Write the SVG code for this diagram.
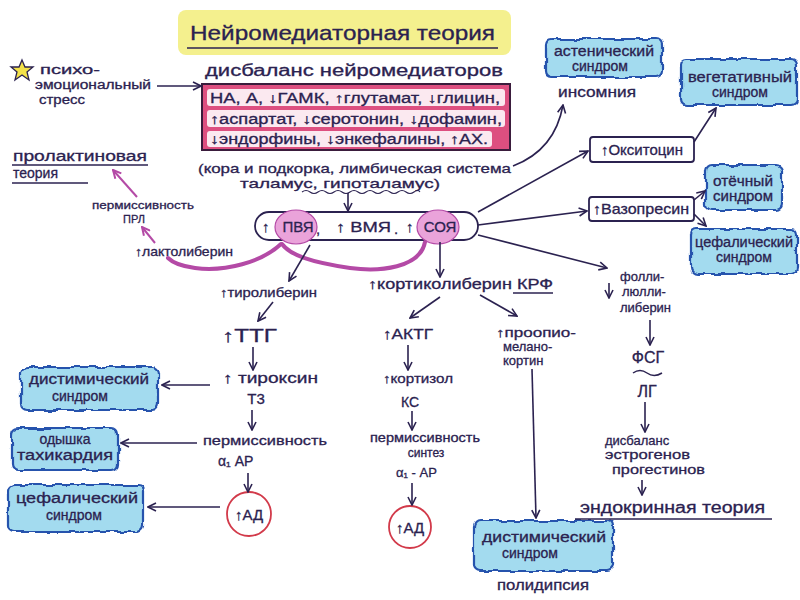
<svg xmlns="http://www.w3.org/2000/svg" width="800" height="600" viewBox="0 0 800 600">
<style>
.t{font-family:"Liberation Sans","DejaVu Sans",sans-serif;fill:#2b2250;stroke:#2b2250;stroke-width:0.3;}
.m{text-anchor:middle;}
.s11{font-size:11px}.s12{font-size:12px}.s13{font-size:13px}.s14{font-size:14px}.s15{font-size:15px}.s16{font-size:16px}.s18{font-size:18px}
.ln{stroke:#2b2250;stroke-width:1.6;fill:none;marker-end:url(#ah);}
.pl{stroke:#b44aa6;stroke-width:2;fill:none;marker-end:url(#pah);}
.pc{stroke:#b44aa6;stroke-width:4;fill:none;stroke-linecap:round;}
.cloud{fill:#a3dbef;stroke:#2553ad;stroke-width:2.2;filter:url(#wob);}
.box{fill:#fff;stroke:#2b2250;stroke-width:1.8;}
.ad{fill:#fff;stroke:#d23a4a;stroke-width:1.8;}
.ul{stroke:#2b2250;stroke-width:1.6;fill:none;}
</style>
<defs>
<marker id="ah" markerUnits="userSpaceOnUse" markerWidth="10" markerHeight="10" viewBox="0 0 10 10" refX="9" refY="5" orient="auto">
<path d="M1,1 L9,5 L1,9" fill="none" stroke="#2b2250" stroke-width="1.6"/>
</marker>
<marker id="pah" markerUnits="userSpaceOnUse" markerWidth="10" markerHeight="10" viewBox="0 0 10 10" refX="9" refY="5" orient="auto">
<path d="M1,1 L9,5 L1,9" fill="none" stroke="#b44aa6" stroke-width="2"/>
</marker>
<filter id="wob" x="-10%" y="-15%" width="120%" height="130%">
<feTurbulence type="fractalNoise" baseFrequency="0.11" numOctaves="1" seed="3" result="n"/>
<feDisplacementMap in="SourceGraphic" in2="n" scale="6" xChannelSelector="R" yChannelSelector="G"/>
</filter>
</defs>
<rect width="800" height="600" fill="#ffffff"/>

<g id="title">
<rect x="178" y="10" width="333" height="45" rx="8" fill="#f4f08e"/>
<text class="t" x="190" y="40" font-size="21" textLength="305" lengthAdjust="spacingAndGlyphs">Нейромедиаторная теория</text>
<line class="ul" x1="187" y1="48" x2="498" y2="48"/>
</g>

<g id="stress">
<path d="M22,60 L25,67 L33,67 L27,72 L29,80 L22,75 L15,80 L17,72 L11,67 L19,67 Z" fill="#f3e24a" stroke="#2b2250" stroke-width="1.3"/>
<text class="t s12" x="40" y="74" textLength="60" lengthAdjust="spacingAndGlyphs">психо-</text>
<text class="t s12" x="35" y="89" textLength="116" lengthAdjust="spacingAndGlyphs">эмоциональный</text>
<text class="t s12" x="39" y="104" textLength="46" lengthAdjust="spacingAndGlyphs">стресс</text>
</g>

<g id="disbalance">
<text class="t s16" x="205" y="76" textLength="298" lengthAdjust="spacingAndGlyphs">дисбаланс нейромедиаторов</text>
<rect x="202" y="84" width="308" height="66" fill="#dd4f80" stroke="#3a1c3c" stroke-width="2"/>
<rect x="207" y="89" width="298" height="17" rx="3" fill="#fbe9f0"/>
<rect x="207" y="110" width="298" height="17" rx="3" fill="#fbe9f0"/>
<rect x="207" y="131" width="285" height="16" rx="3" fill="#fbe9f0"/>
<text class="t s14" x="210" y="103" textLength="290" lengthAdjust="spacingAndGlyphs">НА, А, ↓ГАМК, ↑глутамат, ↓глицин,</text>
<text class="t s14" x="210" y="124" textLength="292" lengthAdjust="spacingAndGlyphs">↑аспартат, ↓серотонин, ↓дофамин,</text>
<text class="t s14" x="210" y="144" textLength="278" lengthAdjust="spacingAndGlyphs">↓эндорфины, ↓энкефалины, ↑АХ.</text>
</g>

<g id="location">
<text class="t s13" x="198" y="173" textLength="313" lengthAdjust="spacingAndGlyphs">(кора и подкорка, лимбическая система</text>
<text class="t s13" x="240" y="188" textLength="200" lengthAdjust="spacingAndGlyphs">таламус, гипоталамус)</text>
<path d="M302,192 q4,-3 8,0 t8,0 t8,0 t8,0 t8,0 t8,0 t8,0 t8,0 t8,0 t8,0 t8,0 t8,0 t8,0 t8,0 t6,0" stroke="#2b2250" stroke-width="1.1" fill="none"/>
</g>

<g id="prl-theory">
<text class="t s14" x="13" y="161" textLength="134" lengthAdjust="spacingAndGlyphs">пролактиновая</text>
<line class="ul" x1="12" y1="165" x2="148" y2="165"/>
<text class="t s14" x="13" y="178">теория</text>
<line class="ul" x1="12" y1="183" x2="88" y2="183"/>
</g>

<g id="prl">
<text class="t s11 m" x="143" y="209" textLength="102" lengthAdjust="spacingAndGlyphs">пермиссивность</text>
<text class="t s11 m" x="134" y="223">ПРЛ</text>
</g>
<g id="lactoliberin">
<text class="t s13" x="135" y="256" textLength="98" lengthAdjust="spacingAndGlyphs">↑лактолиберин</text>
</g>

<g id="nuclei">
<rect x="255" y="212" width="223" height="28" rx="14" fill="#fff" stroke="#2b2250" stroke-width="1.8"/>
<ellipse cx="296" cy="227" rx="21" ry="17" fill="#eaa3da" stroke="#b44aa6" stroke-width="1.2"/>
<ellipse cx="438" cy="227" rx="21" ry="17" fill="#eaa3da" stroke="#b44aa6" stroke-width="1.2"/>
<text class="t s15" x="262" y="232">↑</text>
<text class="t s15 m" x="298" y="232">ПВЯ</text>
<text class="t s15" x="316" y="234">,</text>
<text class="t s15" x="336" y="232" textLength="55" lengthAdjust="spacingAndGlyphs">↑ ВМЯ</text>
<text class="t s15" x="394" y="234">.</text>
<text class="t s15" x="406" y="232">↑</text>
<text class="t s15 m" x="440" y="232">СОЯ</text>
</g>

<g id="oxytocin">
<rect class="box" x="590" y="137" width="104" height="25" rx="3"/>
<text class="t s15 m" x="642" y="155">↑Окситоцин</text>
</g>
<g id="vasopressin">
<rect class="box" x="589" y="197" width="105" height="24" rx="3"/>
<text class="t s15 m" x="641" y="214" textLength="96" lengthAdjust="spacingAndGlyphs">↑Вазопресин</text>
</g>

<g id="asthenic">
<rect class="cloud" x="546" y="39" width="116" height="38" rx="6"/>
<text class="t s14 m" x="604" y="56" textLength="100" lengthAdjust="spacingAndGlyphs">астенический</text>
<text class="t s14 m" x="600" y="71">синдром</text>
<text class="t s14 m" x="597" y="97" textLength="78" lengthAdjust="spacingAndGlyphs">инсомния</text>
</g>
<g id="vegetative">
<rect class="cloud" x="681" y="59" width="116" height="46" rx="6"/>
<text class="t s14 m" x="740" y="82" textLength="104" lengthAdjust="spacingAndGlyphs">вегетативный</text>
<text class="t s14 m" x="740" y="97">синдром</text>
</g>
<g id="edema">
<rect class="cloud" x="706" y="165" width="76" height="45" rx="6"/>
<text class="t s14 m" x="743" y="186" textLength="60" lengthAdjust="spacingAndGlyphs">отёчный</text>
<text class="t s14 m" x="743" y="201" textLength="60" lengthAdjust="spacingAndGlyphs">синдром</text>
</g>
<g id="cephal-right">
<rect class="cloud" x="691" y="229" width="106" height="45" rx="6"/>
<text class="t s14 m" x="744" y="247" textLength="98" lengthAdjust="spacingAndGlyphs">цефалический</text>
<text class="t s14 m" x="744" y="262">синдром</text>
</g>

<g id="thyroliberin"><text class="t s13" x="220" y="297" textLength="97" lengthAdjust="spacingAndGlyphs">↑тиролиберин</text></g>
<g id="ttg"><text class="t s18" x="222" y="342" textLength="55" lengthAdjust="spacingAndGlyphs">↑ТТГ</text></g>
<g id="thyroxin">
<text class="t s15" x="223" y="383" textLength="95" lengthAdjust="spacingAndGlyphs">↑ тироксин</text>
<text class="t s15 m" x="256" y="404">Т3</text>
</g>
<g id="perm-left">
<text class="t s13" x="203" y="445" textLength="124" lengthAdjust="spacingAndGlyphs">пермиссивность</text>
<text class="t s14" x="218" y="466">α₁ АР</text>
</g>
<g id="ad-left">
<circle class="ad" cx="249" cy="514" r="22"/>
<text class="t s15 m" x="249" y="520">↑АД</text>
</g>
<g id="dysthymic-left">
<rect class="cloud" x="21" y="367" width="137" height="43" rx="6"/>
<text class="t s14 m" x="89" y="384" textLength="120" lengthAdjust="spacingAndGlyphs">дистимический</text>
<text class="t s14 m" x="80" y="401">синдром</text>
</g>
<g id="dyspnea">
<rect class="cloud" x="12" y="428" width="106" height="42" rx="6"/>
<text class="t s14 m" x="65" y="444">одышка</text>
<text class="t s14 m" x="65" y="460" textLength="96" lengthAdjust="spacingAndGlyphs">тахикардия</text>
</g>
<g id="cephal-left">
<rect class="cloud" x="8" y="485" width="135" height="47" rx="6"/>
<text class="t s14 m" x="77" y="503" textLength="122" lengthAdjust="spacingAndGlyphs">цефалический</text>
<text class="t s14 m" x="74" y="520">синдром</text>
</g>

<g id="corticoliberin">
<text class="t s14" x="368" y="289" textLength="185" lengthAdjust="spacingAndGlyphs">↑кортиколиберин КРФ</text>
<line class="ul" x1="513" y1="293" x2="553" y2="293" stroke-width="1.2"/>
</g>
<g id="actg"><text class="t s15" x="383" y="339" textLength="50" lengthAdjust="spacingAndGlyphs">↑АКТГ</text></g>
<g id="cortisol">
<text class="t s13" x="383" y="383" textLength="70" lengthAdjust="spacingAndGlyphs">↑кортизол</text>
<text class="t s14 m" x="410" y="407">КС</text>
</g>
<g id="perm-mid">
<text class="t s12" x="370" y="442" textLength="110" lengthAdjust="spacingAndGlyphs">пермиссивность</text>
<text class="t s12 m" x="426" y="457">синтез</text>
<text class="t s13" x="396" y="477">α₁ - АР</text>
</g>
<g id="ad-mid">
<circle class="ad" cx="410" cy="527" r="21"/>
<text class="t s15 m" x="410" y="533">↑АД</text>
</g>
<g id="pomc">
<text class="t s13" x="496" y="337" textLength="80" lengthAdjust="spacingAndGlyphs">↑проопио-</text>
<text class="t s13" x="503" y="351">меланo-</text>
<text class="t s13" x="503" y="365">кортин</text>
</g>
<g id="dysthymic-bottom">
<rect class="cloud" x="474" y="521" width="139" height="50" rx="6"/>
<text class="t s14 m" x="544" y="542" textLength="124" lengthAdjust="spacingAndGlyphs">дистимический</text>
<text class="t s14 m" x="530" y="558">синдром</text>
<text class="t s14 m" x="543" y="590" textLength="92" lengthAdjust="spacingAndGlyphs">полидипсия</text>
</g>

<g id="folliliberin">
<text class="t s13" x="620" y="281">фолли-</text>
<text class="t s13" x="622" y="296">люлли-</text>
<text class="t s13" x="620" y="312">либерин</text>
</g>
<g id="fsg">
<text class="t s16 m" x="648" y="363">ФСГ</text>
<path d="M633,373 q7,-5 14,0 t15,0" stroke="#2b2250" stroke-width="1.5" fill="none"/>
<text class="t s16 m" x="647" y="397">ЛГ</text>
</g>
<g id="estrogen">
<text class="t s13" x="605" y="445">дисбаланс</text>
<text class="t s13" x="605" y="459" textLength="85" lengthAdjust="spacingAndGlyphs">эстрогенов</text>
<text class="t s13" x="612" y="474" textLength="93" lengthAdjust="spacingAndGlyphs">прогестинов</text>
</g>
<g id="endocrine">
<text class="t s16" x="580" y="513" textLength="185" lengthAdjust="spacingAndGlyphs">эндокринная теория</text>
<line class="ul" x1="575" y1="519" x2="772" y2="519"/>
</g>

<g id="connectors">
<line class="ln" x1="157" y1="86" x2="201" y2="86"/>
<line class="ln" x1="348" y1="193" x2="348" y2="211"/>
<path class="pc" d="M425,242 C420,268 380,272 350,268 C310,262 290,255 282,244"/>
<path class="pc" d="M281,244 C262,262 225,272 195,268 C180,266 172,262 168,258"/>
<line class="pl" x1="155" y1="243" x2="142" y2="227"/>
<line class="pl" x1="137" y1="197" x2="113" y2="170"/>
<path class="ln" d="M513,166 Q555,150 563,105"/>
<line class="ln" x1="478" y1="212" x2="588" y2="151"/>
<line class="ln" x1="478" y1="225" x2="587" y2="211"/>
<line class="ln" x1="478" y1="235" x2="607" y2="268"/>
<path class="ln" d="M694,142 L703,128 L716,108"/>
<line class="ln" x1="694" y1="200" x2="705" y2="191"/>
<line class="ln" x1="694" y1="214" x2="706" y2="226"/>
<line class="ln" x1="310" y1="245" x2="289" y2="281"/>
<line class="ln" x1="273" y1="302" x2="258" y2="321"/>
<line class="ln" x1="253" y1="347" x2="253" y2="370"/>
<line class="ln" x1="252" y1="410" x2="252" y2="430"/>
<line class="ln" x1="248" y1="473" x2="248" y2="492"/>
<line class="ln" x1="210" y1="385" x2="162" y2="385"/>
<line class="ln" x1="197" y1="443" x2="121" y2="443"/>
<line class="ln" x1="220" y1="507" x2="148" y2="507"/>
<line class="ln" x1="440" y1="242" x2="440" y2="277"/>
<line class="ln" x1="440" y1="297" x2="410" y2="318"/>
<line class="ln" x1="480" y1="295" x2="517" y2="316"/>
<line class="ln" x1="408" y1="345" x2="408" y2="370"/>
<line class="ln" x1="412" y1="411" x2="412" y2="430"/>
<line class="ln" x1="412" y1="483" x2="412" y2="505"/>
<line class="ln" x1="532" y1="369" x2="536" y2="518"/>
<line class="ln" x1="609" y1="283" x2="609" y2="298"/>
<line class="ln" x1="650" y1="320" x2="650" y2="345"/>
<line class="ln" x1="645" y1="402" x2="645" y2="432"/>
<line class="ln" x1="642" y1="480" x2="642" y2="495"/>
</g>
</svg>
